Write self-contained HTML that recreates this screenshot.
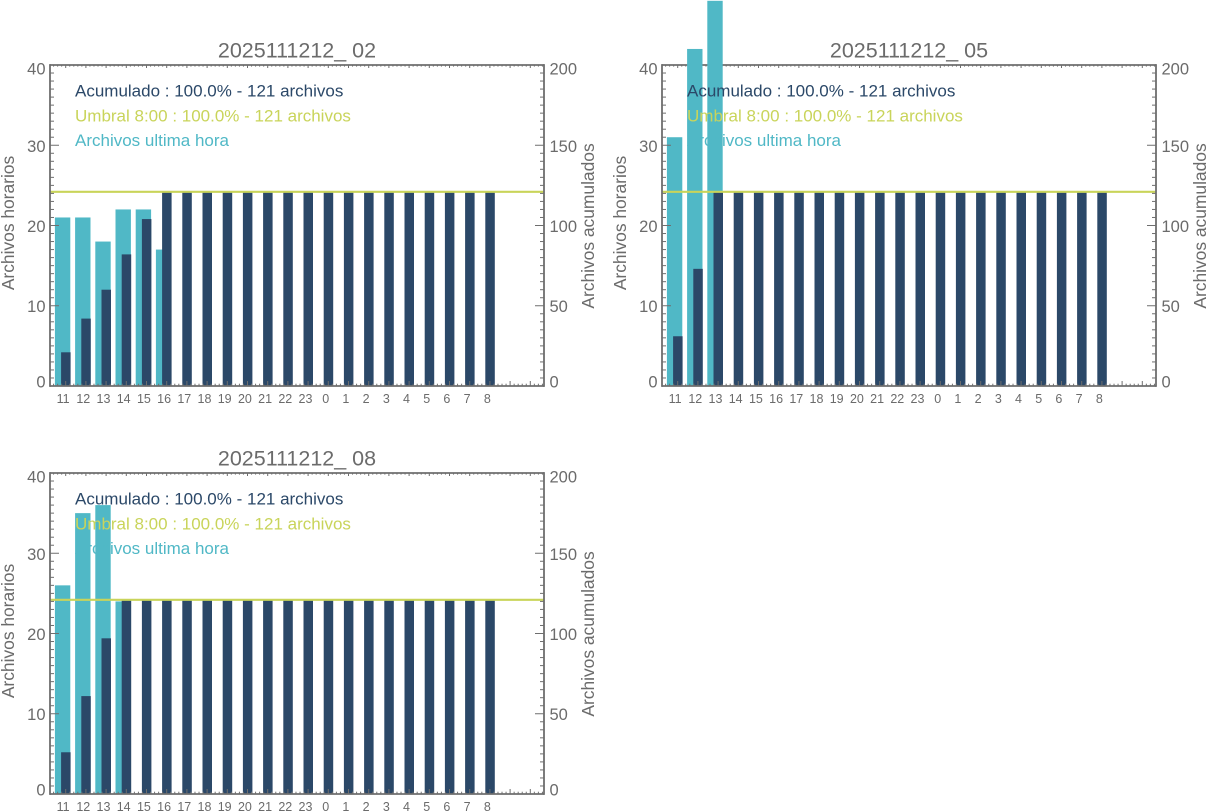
<!DOCTYPE html>
<html>
<head>
<meta charset="utf-8">
<style>
  html,body{margin:0;padding:0;background:#fff;}
  svg{display:block;}
  text{font-family:"Liberation Sans", Arial, sans-serif;}
</style>
</head>
<body>
<svg id="s" xmlns="http://www.w3.org/2000/svg" width="1206" height="812" viewBox="0 0 1206 812"></svg>
<script>
(function(){
  var NS="http://www.w3.org/2000/svg";
  var svg=document.getElementById('s');
  var out=[];
  var AX="#6e6e6e", TXT="#6b6b6b", CYAN="#50b8c6", DARK="#2b4868", YEL="#c9d45a";
  var labels=[11,12,13,14,15,16,17,18,19,20,21,22,23,0,1,2,3,4,5,6,7,8];
  function L(x1,y1,x2,y2,c,w){out.push('<line x1="'+x1.toFixed(2)+'" y1="'+y1.toFixed(2)+'" x2="'+x2.toFixed(2)+'" y2="'+y2.toFixed(2)+'" stroke="'+c+'" stroke-width="'+w+'"/>');}
  function R(x,y,w,h,c){out.push('<rect x="'+x.toFixed(2)+'" y="'+y.toFixed(2)+'" width="'+w.toFixed(2)+'" height="'+h.toFixed(2)+'" fill="'+c+'"/>');}
  function T(x,y,s,fs,c,anchor,extra){out.push('<text x="'+x.toFixed(2)+'" y="'+y.toFixed(2)+'" font-size="'+fs+'" fill="'+c+'" text-anchor="'+(anchor||'start')+'" '+(extra||'')+'>'+s+'</text>');}

  function chart(ox,oy,title,hourly){
    var Lx=ox+50, Rx=ox+544, Ty=oy+65, By=oy+386;
    var ppl=(By-Ty)/40, ppr=(By-Ty)/200;
    function tk(i){return ox+65.7+20.2*i;}
    // title
    T(ox+297,oy+57.3,title,21.5,TXT,'middle');
    // top axis (drawn before bars)
    L(Lx,Ty,Rx,Ty,AX,1.8);
    var st=20.2/5;
    var start=tk(0); while(start-st>Lx) start-=st;
    for(var x=start, k=0; x<Rx; x+=st){
      var idx=Math.round((x-tk(0))/st);
      var major=(idx%5===0);
      L(x,Ty,x,Ty+(major?3:1.6),AX,1);
    }
    // cumulative
    var cum=[],c=0;
    for(var i=0;i<22;i++){c+=(hourly[i]||0);cum.push(c);}
    // cyan bars
    for(var i=0;i<22;i++){
      var h=hourly[i]||0; if(!h) continue;
      var t=tk(i);
      R(t-10.8,By-h*ppl,15.4,h*ppl,CYAN);
    }
    // dark bars
    for(var i=0;i<22;i++){
      var v=cum[i]; var t=tk(i);
      R(t-4.6,By-v*ppr,9.5,v*ppr,DARK);
    }
    // threshold line
    L(Lx,By-121*ppr,Rx,By-121*ppr,YEL,2.2);
    // left, right, bottom axes
    L(Lx,Ty-0.9,Lx,By+0.9,AX,1.8);
    L(Rx,Ty-0.9,Rx,By+0.9,AX,1.8);
    L(Lx,By,Rx,By,AX,1.8);
    for(var v=0; v<=40; v++){
      var y=By-v*ppl; var major=(v%10===0);
      L(Lx,y,Lx+(major?9:4),y,AX,1);
      L(Rx,y,Rx-(major && (v%10===0)?9:4),y,AX,1);
    }
    for(var x=start; x<Rx; x+=st){
      var idx=Math.round((x-tk(0))/st);
      var major=(idx%5===0);
      L(x,By,x,By-(major?5:2.3),AX,1);
    }
    // left tick labels
    var ly=[[0,381.5],[10,306],[20,226],[30,146],[40,68.5]];
    for(var j=0;j<ly.length;j++){
      T(Lx-4.5,oy+ly[j][1]+5.8,String(ly[j][0]),16.5,TXT,'end');
      T(Rx+5.5,oy+ly[j][1]+5.8,String(ly[j][0]*5),16.5,TXT,'start');
    }
    // bottom labels
    for(var i=0;i<22;i++){
      T(tk(i)-2.6,By+17,String(labels[i]),12.5,TXT,'middle');
    }
    // legend
    T(ox+75,oy+96.7,'Acumulado : 100.0% - 121 archivos',17,DARK,'start');
    T(ox+75,oy+121.4,'Umbral 8:00 : 100.0% - 121 archivos',17,YEL,'start');
    T(ox+75,oy+146.1,'Archivos ultima hora',17,CYAN,'start');
    // axis titles
    out.push('<text x="0" y="0" font-size="17.4" fill="'+TXT+'" text-anchor="middle" transform="translate('+(ox+14)+','+(oy+223)+') rotate(-90)">Archivos horarios</text>');
    out.push('<text x="0" y="0" font-size="17.4" fill="'+TXT+'" text-anchor="middle" transform="translate('+(ox+594)+','+(oy+226)+') rotate(-90)">Archivos acumulados</text>');
  }
  chart(0,0,'2025111212_ 02',[21,21,18,22,22,17]);
  chart(612,0,'2025111212_ 05',[31,42,48]);
  chart(0,408,'2025111212_ 08',[26,35,36,24]);
  svg.innerHTML=out.join('');
})();
</script>
</body>
</html>
